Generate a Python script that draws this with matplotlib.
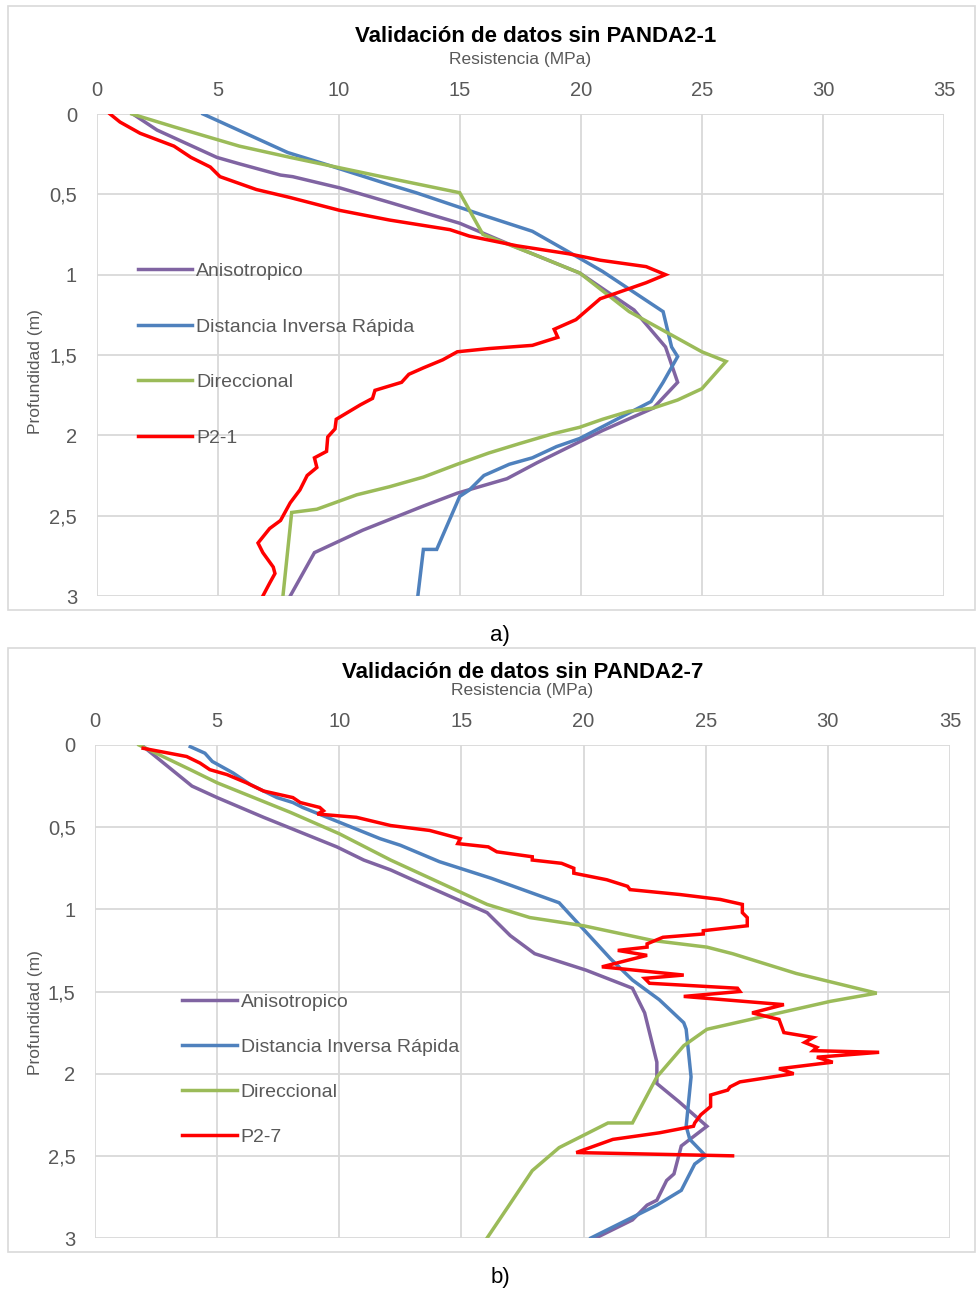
import matplotlib
matplotlib.use("Agg")
import matplotlib.pyplot as plt
from matplotlib.patches import Rectangle

plt.rcParams['font.family'] = ['Liberation Sans Narrow', 'Liberation Sans', 'DejaVu Sans']

# ---- Panel a) P2-1 ----
a_aniso_x = [1.5, 2.5, 4.97, 5.9, 7.6, 8.1, 10.05, 12.1, 15.0, 17.35, 19.96, 22.2, 23.5, 24.0,
             23.0, 20.9, 19.95, 18.2, 16.95, 14.9, 13.5, 11.0, 9.0, 8.0]
a_aniso_y = [0, 0.1, 0.27, 0.31, 0.38, 0.39, 0.46, 0.55, 0.68, 0.83, 0.99, 1.22, 1.45, 1.67,
             1.83, 1.97, 2.04, 2.17, 2.27, 2.36, 2.44, 2.59, 2.73, 3.0]

a_idw_x = [4.4, 7.9, 9.4, 12.1, 13.2, 15.96, 18.0, 19.4, 20.9, 23.4, 23.75, 24.0, 23.4, 22.9,
           22.0, 19.95, 19.0, 18.0, 17.05, 16.0, 15.4, 15.0, 14.05, 13.5, 13.27]
a_idw_y = [0, 0.24, 0.31, 0.44, 0.49, 0.63, 0.73, 0.85, 0.98, 1.23, 1.45, 1.51, 1.67, 1.79,
           1.86, 2.02, 2.07, 2.14, 2.18, 2.25, 2.34, 2.38, 2.71, 2.71, 3.0]

a_dir_x = [1.46, 3.2, 5.9, 8.0, 12.1, 15.0, 15.96, 18.0, 19.96, 22.0, 25.0, 26.0, 25.0, 24.0,
           23.0, 22.0, 20.9, 19.95, 18.85, 17.5, 16.2, 14.9, 13.5, 12.1, 10.75, 9.1, 8.06, 7.7]
a_dir_y = [0, 0.08, 0.2, 0.27, 0.4, 0.49, 0.75, 0.87, 0.99, 1.23, 1.48, 1.54, 1.71, 1.78,
           1.83, 1.85, 1.9, 1.95, 1.99, 2.05, 2.11, 2.18, 2.26, 2.32, 2.37, 2.46, 2.48, 3.0]

a_p2_x = [0.56, 0.97, 1.8, 3.2, 3.9, 4.7, 5.1, 6.6, 8.0, 10.05, 12.1, 14.6, 15.4, 17.35, 19.5,
          20.8, 22.7, 23.5, 22.7, 20.8, 19.8, 18.9, 19.05, 18.0, 16.2, 14.9, 14.3, 13.5, 12.9,
          12.6, 11.5, 11.4, 10.9, 9.9, 9.85, 9.55, 9.5, 9.0, 9.1, 8.7, 8.4, 8.0, 7.6, 7.15,
          6.67, 6.87, 7.3, 7.37, 7.15, 6.87]
a_p2_y = [0, 0.05, 0.12, 0.2, 0.27, 0.33, 0.39, 0.47, 0.52, 0.6, 0.66, 0.72, 0.76, 0.82, 0.87,
          0.91, 0.95, 1.0, 1.05, 1.15, 1.28, 1.34, 1.39, 1.44, 1.46, 1.48, 1.53, 1.58, 1.62,
          1.67, 1.72, 1.77, 1.81, 1.9, 1.96, 2.01, 2.1, 2.14, 2.2, 2.25, 2.34, 2.42, 2.53, 2.58,
          2.67, 2.73, 2.82, 2.86, 2.92, 3.0]

# ---- Panel b) P2-7 ----
b_aniso_x = [1.9, 3.97, 5.0, 6.9, 9.9, 11.0, 12.1, 13.0, 16.05, 17.0, 18.0, 20.1, 22.0, 22.5,
             23.0, 23.0, 23.9, 25.05, 24.0, 23.7, 23.4, 23.0, 22.6, 22.0, 20.5]
b_aniso_y = [0, 0.25, 0.32, 0.44, 0.62, 0.7, 0.76, 0.82, 1.02, 1.16, 1.27, 1.37, 1.48, 1.63,
             1.93, 2.06, 2.17, 2.32, 2.44, 2.61, 2.65, 2.77, 2.8, 2.89, 3.0]

b_idw_x = [3.9, 4.5, 4.8, 5.65, 6.35, 7.45, 8.1, 8.5, 11.67, 12.5, 14.1, 16.2, 19.0, 21.1, 22.0,
           23.1, 24.1, 24.2, 24.4, 24.2, 24.35, 25.0, 24.55, 24.0, 23.0, 20.3]
b_idw_y = [0.01, 0.05, 0.1, 0.17, 0.24, 0.32, 0.35, 0.38, 0.57, 0.61, 0.71, 0.81, 0.96, 1.3, 1.43,
           1.55, 1.69, 1.73, 2.02, 2.32, 2.4, 2.5, 2.55, 2.71, 2.8, 3.0]

b_dir_x = [1.8, 3.9, 5.0, 8.0, 10.0, 12.1, 16.05, 17.8, 20.0, 22.85, 25.05, 26.1, 28.7, 32.0,
           30.1, 25.05, 24.1, 23.0, 22.0, 21.0, 19.0, 17.9, 17.0, 16.05]
b_dir_y = [0, 0.15, 0.23, 0.41, 0.54, 0.7, 0.97, 1.05, 1.1, 1.19, 1.23, 1.27, 1.39, 1.51,
           1.56, 1.73, 1.83, 2.02, 2.3, 2.3, 2.45, 2.59, 2.79, 3.0]

b_p2_x = [1.97, 3.75, 4.3, 4.7, 5.4, 6.2, 6.9, 8.1, 8.4, 9.2, 9.35, 9.1, 10.7, 12.1, 13.7, 14.95,
          14.85, 16.1, 16.45, 17.9, 17.9, 19.1, 19.6, 19.6, 20.95, 21.8, 21.9, 23.95, 25.6, 26.5,
          26.5, 26.7, 26.7, 24.9, 24.9, 23.25, 22.6, 22.6, 21.4, 22.6, 21.8, 20.75, 24.1, 22.5,
          22.7, 26.3, 26.4, 24.1, 28.2, 26.9, 28.0, 28.2, 29.4, 29.05, 29.55, 29.4, 32.1, 29.55,
          30.2, 28.0, 28.6, 26.4, 26.0, 25.9, 25.2, 25.2, 24.8, 24.55, 24.5, 23.1, 21.2, 19.7, 26.1]
b_p2_y = [0.02, 0.07, 0.11, 0.15, 0.18, 0.23, 0.28, 0.32, 0.35, 0.38, 0.4, 0.42, 0.44, 0.49, 0.52,
          0.57, 0.6, 0.62, 0.65, 0.68, 0.7, 0.72, 0.75, 0.78, 0.82, 0.86, 0.88, 0.91, 0.94, 0.97,
          1.02, 1.05, 1.1, 1.13, 1.15, 1.17, 1.21, 1.23, 1.25, 1.28, 1.31, 1.35, 1.4, 1.42,
          1.45, 1.48, 1.5, 1.53, 1.58, 1.63, 1.67, 1.75, 1.78, 1.81, 1.84, 1.86, 1.87, 1.9,
          1.93, 1.97, 2.0, 2.05, 2.08, 2.1, 2.13, 2.2, 2.25, 2.3, 2.32, 2.36, 2.4, 2.48, 2.5]

x_ticks = [0, 5, 10, 15, 20, 25, 30, 35]
y_ticks = [0, 0.5, 1, 1.5, 2, 2.5, 3]
y_tick_labels = ['0', '0,5', '1', '1,5', '2', '2,5', '3']
labels = ['Anisotropico', 'Distancia Inversa Rápida', 'Direccional']
colors = ['#8064A2', '#4F81BD', '#9BBB59', '#FF0000']

W, H = 980, 1289
fig = plt.figure(figsize=(W / 100, H / 100), dpi=100)


def fx(px):
    return px / W


def fy(py):
    return 1 - py / H


def panel(box, ax_box, series, well, title, title_xy, leg_pos, leg_space, ylab_y, tag):
    x0, y0, x1, y1 = box
    fig.patches.append(Rectangle((fx(x0), fy(y1)), fx(x1 - x0), (y1 - y0) / H,
                                 transform=fig.transFigure, fill=False,
                                 edgecolor='#d9d9d9', linewidth=1.2))
    l, t, r, b = ax_box
    ax = fig.add_axes([fx(l), fy(b), fx(r - l), (b - t) / H])
    for (xs, ys), c, lab in zip(series, colors, labels + [well]):
        ax.plot(xs, ys, color=c, linewidth=2.5, label=lab, solid_joinstyle='miter')
    ax.set_xlim(0, 35)
    ax.set_ylim(3, 0)
    ax.set_xticks(x_ticks)
    ax.set_yticks(y_ticks)
    ax.set_yticklabels(y_tick_labels)
    ax.xaxis.tick_top()
    ax.xaxis.set_label_position('top')
    ax.tick_params(length=0, labelsize=14.5, labelcolor='#595959')
    ax.tick_params(axis='x', pad=10)
    ax.tick_params(axis='y', pad=14)
    ax.grid(True, color='#d9d9d9', linewidth=1.3)
    ax.set_axisbelow(True)
    for s in ax.spines.values():
        s.set_visible(False)
    ax.set_xlabel('Resistencia (MPa)', fontsize=12.5, color='#595959', labelpad=12)
    ax.set_ylabel('Profundidad (m)', fontsize=12.5, color='#595959')
    ax.yaxis.set_label_coords((43 - l) / (r - l), 1 - (ylab_y - t) / (b - t))
    leg = ax.legend(loc='upper left', bbox_to_anchor=leg_pos, frameon=False, fontsize=14,
                    handlelength=2.8, handletextpad=0.2, labelspacing=leg_space,
                    borderpad=0, borderaxespad=0)
    for txt in leg.get_texts():
        txt.set_color('#595959')
    fig.text(fx(title_xy[0]), fy(title_xy[1]), title, ha='center', va='center',
             fontsize=16, fontweight='bold', color='black')
    fig.text(fx(500), fy(y1 + 25), tag, ha='center', va='center', fontsize=16, color='black')
    return ax


panel((8, 6, 975, 610), (96.5, 114, 944, 596),
      [(a_aniso_x, a_aniso_y), (a_idw_x, a_idw_y), (a_dir_x, a_dir_y), (a_p2_x, a_p2_y)],
      'P2-1', 'Validación de datos sin PANDA2-1', (536, 37), (0.049, 0.692), 1.95, 372, 'a)')
panel((8, 648, 975, 1252), (95, 745, 950, 1238),
      [(b_aniso_x, b_aniso_y), (b_idw_x, b_idw_y), (b_dir_x, b_dir_y), (b_p2_x, b_p2_y)],
      'P2-7', 'Validación de datos sin PANDA2-7', (523, 672), (0.102, 0.497), 1.42, 1013, 'b)')

fig.savefig('out.png', dpi=100)
